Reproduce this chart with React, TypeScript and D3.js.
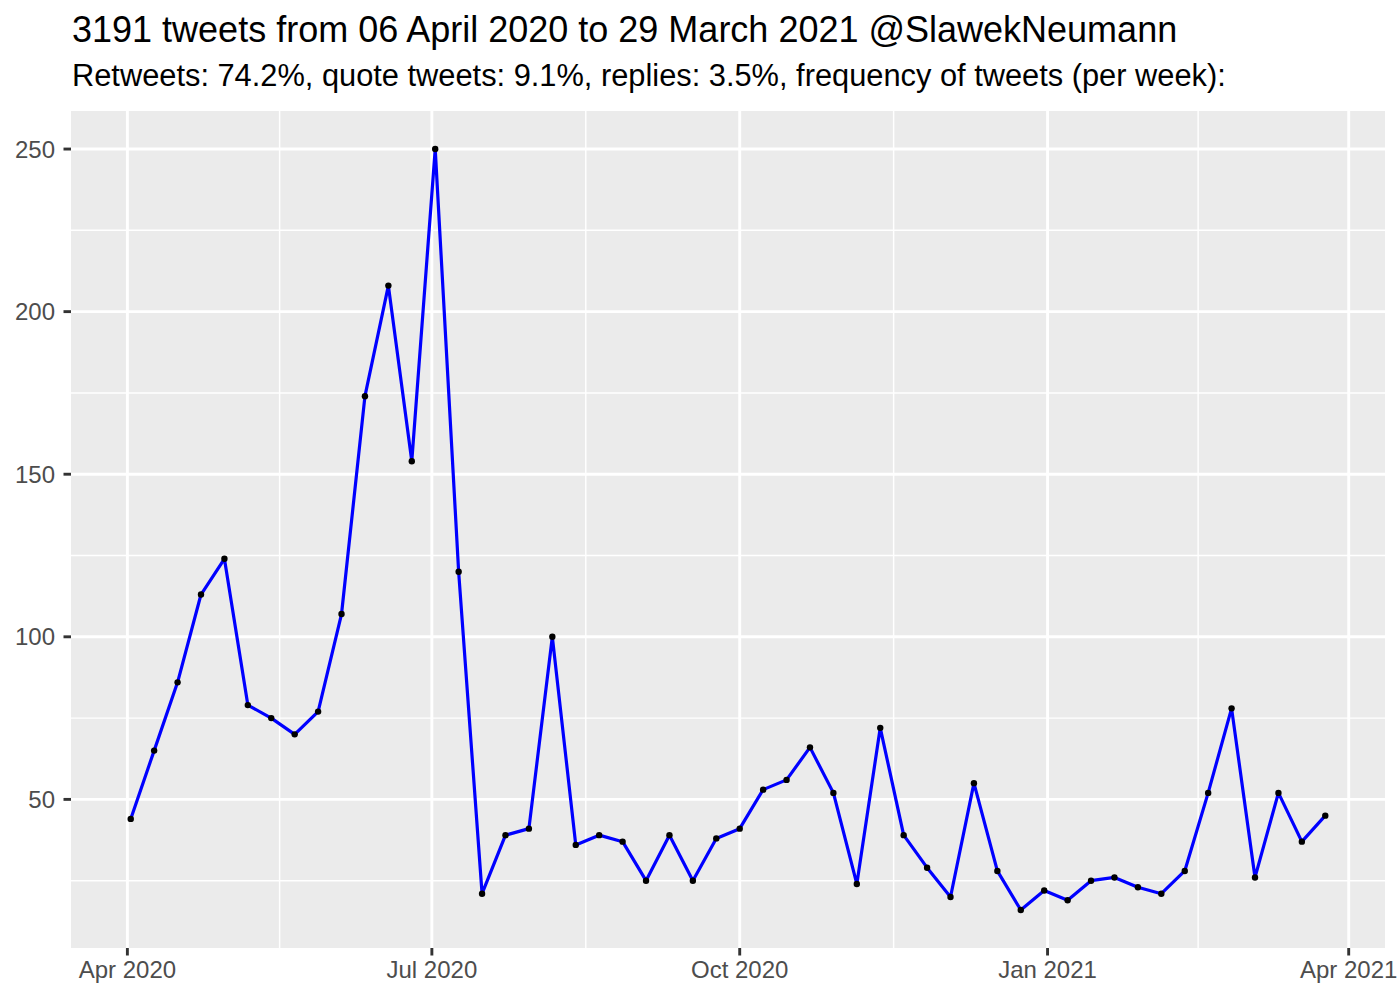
import React from "react";
import * as d3 from "d3";

const startDate = "2020-04-02";
const weeklyCounts = [
  44, 65, 86, 113, 124, 79, 75, 70, 77, 107, 174, 208, 154, 250, 120, 21, 39, 41, 100, 36,
  39, 37, 25, 39, 25, 38, 41, 53, 56, 66, 52, 24, 72, 39, 29, 20, 55, 28, 16, 22,
  19, 25, 26, 23, 21, 28, 52, 78, 26, 52, 37, 45,
];
const yTicks = [50, 100, 150, 200, 250];
const yMinor = [25, 75, 125, 175, 225];
const xTickDates = ["2020-04-01", "2020-07-01", "2020-10-01", "2021-01-01", "2021-04-01"];
const xTickLabels = ["Apr 2020", "Jul 2020", "Oct 2020", "Jan 2021", "Apr 2021"];
const titleText = "3191 tweets from 06 April 2020 to 29 March 2021 @SlawekNeumann";
const subtitleText = "Retweets: 74.2%, quote tweets: 9.1%, replies: 3.5%, frequency of tweets (per week):";

const parse = d3.utcParse("%Y-%m-%d");

export default function App() {
  const W = 1400, H = 1000;
  const left = 71, right = 1385, top = 111, bottom = 948;
  const start = parse(startDate)!;
  const data = weeklyCounts.map((v, i) => ({ date: d3.utcDay.offset(start, i * 7), v }));
  const xExt = d3.extent(data, (d) => +d.date) as [number, number];
  const xPad = (xExt[1] - xExt[0]) * 0.05;
  const x = d3.scaleUtc().domain([new Date(xExt[0] - xPad), new Date(xExt[1] + xPad)]).range([left, right]);
  const yExt = d3.extent(data, (d) => d.v) as [number, number];
  const yPad = (yExt[1] - yExt[0]) * 0.05;
  const y = d3.scaleLinear().domain([yExt[0] - yPad, yExt[1] + yPad]).range([bottom, top]);
  const xMajor = xTickDates.map((s) => parse(s)!);
  const xMinor = xMajor.slice(0, -1).map((d, i) => new Date((+d + +xMajor[i + 1]) / 2));
  const line = d3.line<{ date: Date; v: number }>().x((d) => x(d.date)).y((d) => y(d.v));
  const font = "'Liberation Sans', Arial, Helvetica, sans-serif";
  const majorW = 2.9, minorW = 1.45;
  return (
    <svg width={W} height={H} style={{ position: "absolute", left: 0, top: 0, fontFamily: font }}>
      <rect x={0} y={0} width={W} height={H} fill="white" />
      <text x={72} y={42} fontSize={36} fill="black">{titleText}</text>
      <text x={72} y={86} fontSize={30.8} fill="black">{subtitleText}</text>
      <rect x={left} y={top} width={right - left} height={bottom - top} fill="#EBEBEB" />
      {yMinor.map((t) => (
        <line key={"ym" + t} x1={left} x2={right} y1={y(t)} y2={y(t)} stroke="white" strokeWidth={minorW} />
      ))}
      {xMinor.map((d, i) => (
        <line key={"xm" + i} x1={x(d)} x2={x(d)} y1={top} y2={bottom} stroke="white" strokeWidth={minorW} />
      ))}
      {yTicks.map((t) => (
        <line key={"yM" + t} x1={left} x2={right} y1={y(t)} y2={y(t)} stroke="white" strokeWidth={majorW} />
      ))}
      {xMajor.map((d, i) => (
        <line key={"xM" + i} x1={x(d)} x2={x(d)} y1={top} y2={bottom} stroke="white" strokeWidth={majorW} />
      ))}
      <path d={line(data) ?? ""} fill="none" stroke="#0000FF" strokeWidth={3.2} strokeLinejoin="round" />
      {data.map((d, i) => (
        <circle key={i} cx={x(d.date)} cy={y(d.v)} r={3.2} fill="black" />
      ))}
      {yTicks.map((t) => (
        <g key={"yt" + t}>
          <line x1={left - 7.5} x2={left} y1={y(t)} y2={y(t)} stroke="#333333" strokeWidth={majorW} />
          <text x={left - 16} y={y(t)} dy="0.36em" textAnchor="end" fontSize={24} fill="#4D4D4D">{t}</text>
        </g>
      ))}
      {xMajor.map((d, i) => (
        <g key={"xt" + i}>
          <line x1={x(d)} x2={x(d)} y1={bottom} y2={bottom + 7.5} stroke="#333333" strokeWidth={majorW} />
          <text x={x(d)} y={978} textAnchor="middle" fontSize={24} fill="#4D4D4D">{xTickLabels[i]}</text>
        </g>
      ))}
    </svg>
  );
}
